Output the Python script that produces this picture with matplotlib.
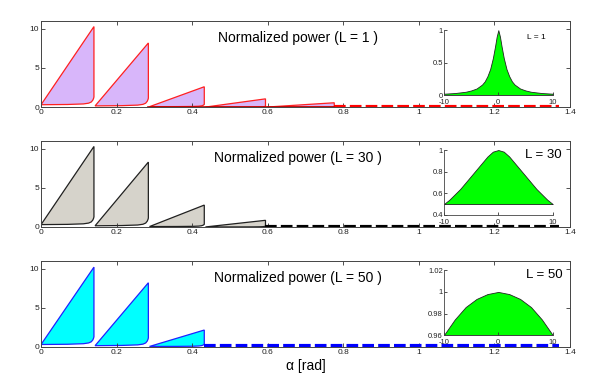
import matplotlib
matplotlib.use("Agg")
import matplotlib.pyplot as plt
import numpy as np

plt.rcParams['font.family'] = ['Liberation Sans', 'DejaVu Sans']

# tooth boundaries along alpha [rad] and peak heights per panel
TOOTH_EDGES = [0.0, 0.140, 0.284, 0.432, 0.594, 0.776]
DASH_END = 1.372

L_values = [1, 30, 50]
peaks = [
    [10.3, 8.2, 2.6, 1.05, 0.55],
    [10.3, 8.3, 2.8, 0.85],
    [10.2, 8.2, 2.15],
]
bases = [
    [0.30, 0.15, 0.05, 0.0, 0.0],
    [0.30, 0.15, 0.05, 0.0],
    [0.30, 0.15, 0.05],
]
corner_heights = [
    [1.0, 1.0, 0.3, 0.1, 0.05],
    [1.0, 1.0, 0.3, 0.1],
    [1.0, 1.0, 0.3],
]
# shape of the rounded lower corner of each tooth (fraction along tooth, relative rise)
corner_frac = [0.0, 0.5, 0.80, 0.90, 0.95, 0.98, 0.995, 1.0]
corner_rise = [0.0, 0.03, 0.10, 0.20, 0.35, 0.60, 0.85, 1.0]

# inset curves
inset1_x = [-10, -8, -6, -5, -4, -3, -2.5, -2, -1.5, -1, -0.6, -0.3, 0,
            0.3, 0.6, 1, 1.5, 2, 2.5, 3, 4, 5, 6, 8, 10]
inset1_y = [0.02, 0.03, 0.05, 0.07, 0.10, 0.16, 0.21, 0.29, 0.40, 0.57, 0.75, 0.90, 1.0,
            0.90, 0.75, 0.57, 0.40, 0.29, 0.21, 0.16, 0.10, 0.07, 0.05, 0.03, 0.02]
inset2_x = [-10, -9, -8, -7, -6, -5, -4, -3, -2, -1, 0, 1, 2, 3, 4, 5, 6, 7, 8, 9, 10]
inset2_y = [0.50, 0.54, 0.59, 0.64, 0.70, 0.76, 0.82, 0.88, 0.94, 0.985, 1.0,
            0.985, 0.94, 0.88, 0.82, 0.76, 0.70, 0.64, 0.59, 0.54, 0.50]
inset3_x = [-10, -8, -6, -4, -2, 0, 2, 4, 6, 8, 10]
inset3_y = [0.96, 0.9745, 0.986, 0.9935, 0.998, 1.0, 0.998, 0.9935, 0.986, 0.9745, 0.96]

insets = [
    (inset1_x, inset1_y, 0.0, (0, 1), [0, 0.5, 1], ["0", "0.5", "1"]),
    (inset2_x, inset2_y, 0.5, (0.4, 1), [0.4, 0.6, 0.8, 1], ["0.4", "0.6", "0.8", "1"]),
    (inset3_x, inset3_y, 0.96, (0.96, 1.02), [0.96, 0.98, 1, 1.02], ["0.96", "0.98", "1", "1.02"]),
]

face_colors = ['#d8b6fa', '#d6d3cb', '#00ffff']
edge_colors = ['#ff2020', '#202020', '#2020ff']
dash_colors = ['#ff0000', '#000000', '#0000ff']

fig = plt.figure(figsize=(5.95, 3.77), dpi=100)
main_bottoms = [0.716, 0.398, 0.080]
inset_bottoms = [0.748, 0.430, 0.111]
label_pos = [(0.85, 0.88), (0.91, 0.92), (0.92, 0.92)]

for k in range(3):
    ax = fig.add_axes([0.069, main_bottoms[k], 0.889, 0.228])
    n = len(peaks[k])
    for i in range(n):
        s = TOOTH_EDGES[i] + (0.003 if i > 0 else 0.0)
        e = TOOTH_EDGES[i + 1]
        p = peaks[k][i]
        b = bases[k][i]
        c = corner_heights[k][i]
        low_x = [s + f * (e - s) for f in corner_frac]
        low_y = [b + r * c for r in corner_rise]
        xs = [s, e] + low_x[::-1]
        ys = [b, p] + low_y[::-1]
        ax.fill(xs, ys, facecolor=face_colors[k], edgecolor=edge_colors[k], linewidth=0.9)
    ax.plot([TOOTH_EDGES[n], DASH_END], [0.05, 0.05], color=dash_colors[k],
            linewidth=3.0, linestyle=(0, (2.8, 1.0)), solid_capstyle='butt')
    if k == 0:
        ax.plot([TOOTH_EDGES[2], TOOTH_EDGES[n]], [0.03, 0.03], color='#c00000', linewidth=1.2)
    ax.set_xlim(0, 1.4)
    ax.set_ylim(0, 11)
    ax.set_xticks([0, 0.2, 0.4, 0.6, 0.8, 1, 1.2, 1.4])
    ax.set_xticklabels(["0", "0.2", "0.4", "0.6", "0.8", "1", "1.2", "1.4"])
    ax.set_yticks([0, 5, 10])
    ax.tick_params(direction='in', top=True, right=True, labelsize=6, length=3,
                   pad=1.5, width=0.6, colors='#333333', labelcolor='#222222')
    for sp in ax.spines.values():
        sp.set_color('#444444')
        sp.set_linewidth(0.7)
    ax.text(0.485, 0.80, "Normalized power (L = %d )" % L_values[k], transform=ax.transAxes,
            ha='center', va='center', fontsize=10)
    if k == 2:
        ax.set_xlabel("\u03b1 [rad]", fontsize=10, labelpad=2)

    ix, iy, base, ylim, yt, ytl = insets[k]
    ia = fig.add_axes([0.746, inset_bottoms[k], 0.183, 0.172])
    ia.fill_between(ix, base, iy, facecolor='#00ff00', edgecolor='#222222', linewidth=0.6)
    ia.set_xlim(-10, 10)
    ia.set_ylim(*ylim)
    ia.set_xticks([-10, 0, 10])
    ia.set_xticklabels(["-10", "0", "10"])
    ia.set_yticks(yt)
    ia.set_yticklabels(ytl)
    ia.spines['top'].set_visible(False)
    ia.spines['right'].set_visible(False)
    for sp in ['left', 'bottom']:
        ia.spines[sp].set_color('#444444')
        ia.spines[sp].set_linewidth(0.6)
    ia.patch.set_alpha(0)
    ia.tick_params(direction='in', labelsize=5.5, length=2.5, pad=0.8, width=0.6,
                   colors='#333333', labelcolor='#222222')
    ia.tick_params(axis='x', pad=3)
    tx, ty = label_pos[k]
    if k == 0:
        ia.text(tx, ty, "L = 1", transform=ia.transAxes, ha='center', va='center', fontsize=6)
    else:
        ia.text(tx, ty, "L = %d" % L_values[k], transform=ia.transAxes,
                ha='center', va='center', fontsize=9.5)

fig.savefig("out.png", dpi=100)
